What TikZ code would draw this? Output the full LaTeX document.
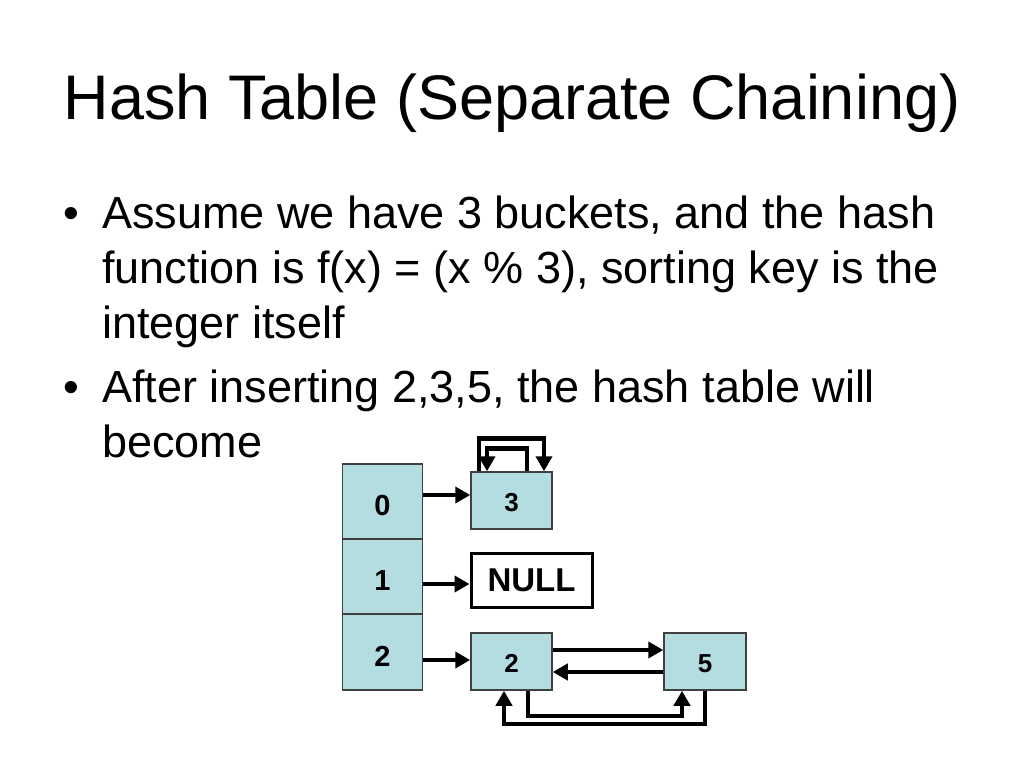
\documentclass[tikz,border=0pt]{standalone}
\usepackage{fontspec}
\setmainfont{Liberation Sans}
\usetikzlibrary{arrows.meta}
\definecolor{cellblue}{RGB}{180,221,226}
\definecolor{edgegray}{RGB}{64,64,64}
\tikzset{
  cell/.style={draw=edgegray, line width=1.5pt, fill=cellblue, minimum width=80pt, inner sep=0pt, text height=28pt, text depth=0pt, font=\fontsize{29}{29}\selectfont\bfseries},
  listnode/.style={draw=edgegray, line width=1.5pt, fill=cellblue, minimum height=57pt, inner sep=0pt, text height=21.6pt, text depth=0pt, font=\fontsize{26}{26}\selectfont\bfseries},
  nullnode/.style={draw=black, line width=3pt, fill=white, minimum width=121pt, minimum height=54pt, inner sep=0pt, font=\fontsize{33}{33}\selectfont\bfseries},
  arr/.style={line width=4.5pt, -{Triangle[length=15pt,width=16pt]}},
  bodytext/.style={anchor=base west, inner sep=0pt, font=\fontsize{45}{54}\selectfont},
  titletext/.style={anchor=base, inner sep=0pt, font=\fontsize{63}{63}\selectfont}
}
\begin{document}
\begin{tikzpicture}[x=1pt, y=-1pt]
\useasboundingbox[fill=white] (0,0) rectangle (1024,768);

% title
\node[titletext] (title) at (512,119) {Hash Table (Separate Chaining)};

% bullets
\node[bodytext] (b1) at (63,228) {\textbullet};
\node[bodytext] (l1) at (102,228) {Assume we have 3 buckets, and the hash};
\node[bodytext] (l2) at (102,283) {function is f(x) = (x \% 3), sorting key is the};
\node[bodytext] (l3) at (102,338) {integer itself};
\node[bodytext] (b2) at (63,402) {\textbullet};
\node[bodytext] (l4) at (102,402) {After inserting 2,3,5, the hash table will};
\node[bodytext] (l5) at (102,457) {become};

% table
\node[cell, minimum height=75pt] (r0) at (382.5,501.5) {0};
\node[cell, minimum height=75pt] (r1) at (382.5,576.5) {1};
\node[cell, minimum height=76pt] (r2) at (382.5,652) {2};

% list nodes
\node[listnode, minimum width=81pt] (n3) at (511.5,500.5) {3};
\node[nullnode] (null) at (531.5,580) {NULL\hspace{8pt}};
\node[listnode, minimum width=81pt] (n2) at (511.5,661.5) {2};
\node[listnode, minimum width=82pt] (n5) at (705,661.5) {5};

% bucket pointers
\draw[arr] ([yshift=6.5pt]r0.east) -- ([yshift=6.5pt]r0.east -| n3.west);
\draw[arr] ([yshift=-7.5pt]r1.east) -- ([yshift=-7.5pt]r1.east -| null.west);
\draw[arr] ([yshift=-8pt]r2.east) -- ([yshift=-8pt]r2.east -| n2.west);

% links between 2 and 5
\draw[arr] ([yshift=11.5pt]n2.east) -- ([yshift=11.5pt]n5.west);
\draw[arr] ([yshift=-10.5pt]n5.west) -- ([yshift=-10.5pt]n2.east);

% bottom loops
\draw[arr] ([xshift=16.5pt]n2.south) -- ++(0,25) -| ([xshift=-23pt]n5.south);
\draw[arr] (n5.south) -- ++(0,33) -| ([xshift=-7.5pt]n2.south);

% top loops on 3
\draw[arr] ([xshift=-32.5pt]n3.north) -- ++(0,-33) -| ([xshift=32.5pt]n3.north);
\draw[arr] ([xshift=15.5pt]n3.north) -- ++(0,-23) -| ([xshift=-24.5pt]n3.north);
\end{tikzpicture}
\end{document}
